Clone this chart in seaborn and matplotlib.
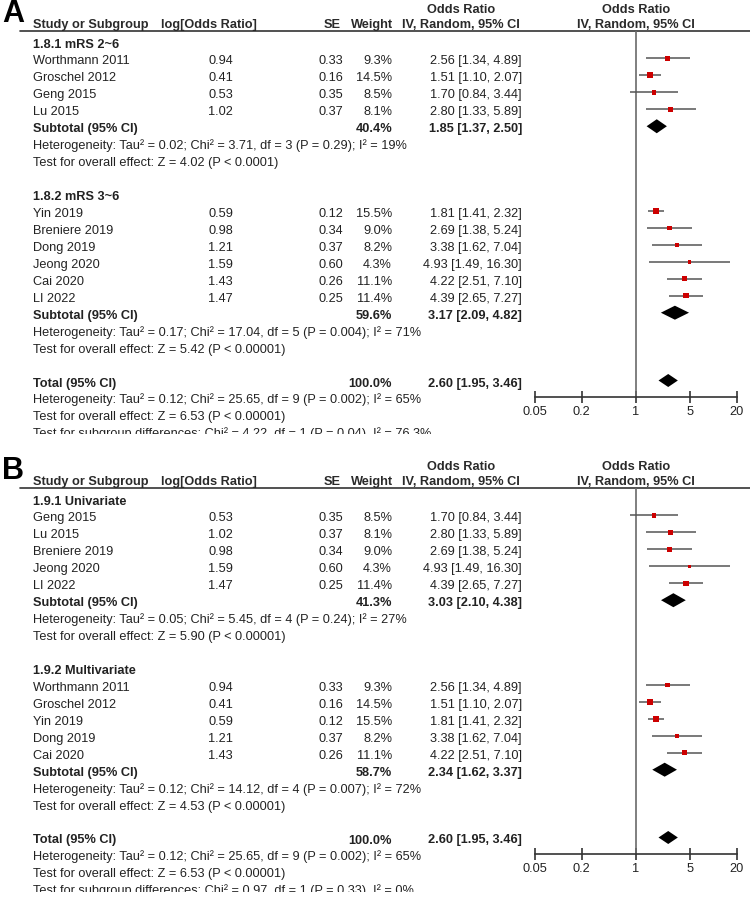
import matplotlib.pyplot as plt
import seaborn as sns
from matplotlib.ticker import NullLocator

sns.set_style("white")
plt.rcParams['font.family'] = ['Liberation Sans', 'DejaVu Sans']

# =========================
# Study level data
# =========================
study = ["Worthmann 2011", "Groschel 2012", "Geng 2015", "Lu 2015", "Yin 2019",
         "Breniere 2019", "Dong 2019", "Jeong 2020", "Cai 2020", "LI 2022"]
log_or = [0.94, 0.41, 0.53, 1.02, 0.59, 0.98, 1.21, 1.59, 1.43, 1.47]
se = [0.33, 0.16, 0.35, 0.37, 0.12, 0.34, 0.37, 0.60, 0.26, 0.25]
weight = [9.3, 14.5, 8.5, 8.1, 15.5, 9.0, 8.2, 4.3, 11.1, 11.4]
odds = [2.56, 1.51, 1.70, 2.80, 1.81, 2.69, 3.38, 4.93, 4.22, 4.39]
ci_low = [1.34, 1.10, 0.84, 1.33, 1.41, 1.38, 1.62, 1.49, 2.51, 2.65]
ci_high = [4.89, 2.07, 3.44, 5.89, 2.32, 5.24, 7.04, 16.30, 7.10, 7.27]

# =========================
# Panel A (mRS subgroups)
# =========================
a_titles = ["1.8.1 mRS 2~6", "1.8.2 mRS 3~6"]
a_members = [["Worthmann 2011", "Groschel 2012", "Geng 2015", "Lu 2015"],
             ["Yin 2019", "Breniere 2019", "Dong 2019", "Jeong 2020", "Cai 2020", "LI 2022"]]
a_sub_weight = [40.4, 59.6]
a_sub_or = [1.85, 3.17]
a_sub_low = [1.37, 2.09]
a_sub_high = [2.50, 4.82]
a_het = ["Heterogeneity: Tau² = 0.02; Chi² = 3.71, df = 3 (P = 0.29); I² = 19%",
         "Heterogeneity: Tau² = 0.17; Chi² = 17.04, df = 5 (P = 0.004); I² = 71%"]
a_z = ["Test for overall effect: Z = 4.02 (P < 0.0001)",
       "Test for overall effect: Z = 5.42 (P < 0.00001)"]
a_diff = "Test for subgroup differences: Chi² = 4.22, df = 1 (P = 0.04), I² = 76.3%"

# =========================
# Panel B (univariate / multivariate)
# =========================
b_titles = ["1.9.1 Univariate", "1.9.2 Multivariate"]
b_members = [["Geng 2015", "Lu 2015", "Breniere 2019", "Jeong 2020", "LI 2022"],
             ["Worthmann 2011", "Groschel 2012", "Yin 2019", "Dong 2019", "Cai 2020"]]
b_sub_weight = [41.3, 58.7]
b_sub_or = [3.03, 2.34]
b_sub_low = [2.10, 1.62]
b_sub_high = [4.38, 3.37]
b_het = ["Heterogeneity: Tau² = 0.05; Chi² = 5.45, df = 4 (P = 0.24); I² = 27%",
         "Heterogeneity: Tau² = 0.12; Chi² = 14.12, df = 4 (P = 0.007); I² = 72%"]
b_z = ["Test for overall effect: Z = 5.90 (P < 0.00001)",
       "Test for overall effect: Z = 4.53 (P < 0.00001)"]
b_diff = "Test for subgroup differences: Chi² = 0.97, df = 1 (P = 0.33), I² = 0%"

# overall pooled result (same in both panels)
total_weight = 100.0
total_or = 2.60
total_low = 1.95
total_high = 3.46
total_het = "Heterogeneity: Tau² = 0.12; Chi² = 25.65, df = 9 (P = 0.002); I² = 65%"
total_z = "Test for overall effect: Z = 6.53 (P < 0.00001)"

ticks = [0.05, 0.2, 1, 5, 20]
tick_labels = ["0.05", "0.2", "1", "5", "20"]

# =========================
# Layout (pixels)
# =========================
W, H = 750, 898
ROW0 = 41.5
STEP = 16.95
FS = 9.2
TXT = "#222222"
fig = plt.figure(figsize=(W / 100, H / 100), dpi=100)


def put(ax, x, y, s, ha="left", bold=False):
    ax.text(x, y + 6, s, ha=ha, va="baseline", fontsize=FS, color=TXT,
            fontweight="bold" if bold else "normal", clip_on=True)


def ci_text(o, lo, hi):
    return f"{o:.2f} [{lo:.2f}, {hi:.2f}]"


def draw_panel(top, reg_top, reg_bot, letter, titles, members, sub_w, sub_or,
               sub_lo, sub_hi, het, z, diff):
    ax = fig.add_axes([0, 1 - reg_bot / H, 1, (reg_bot - reg_top) / H])
    ax.set_xlim(0, W)
    ax.set_ylim(reg_bot - top, reg_top - top)
    ax.axis("off")

    axis_y = ROW0 + 21 * STEP
    axf = fig.add_axes([535 / W, 1 - (top + axis_y) / H, 202 / W, (axis_y - 31) / H])
    axf.set_xscale("log")
    axf.set_xlim(0.05, 20)
    axf.set_ylim(axis_y, 31)
    axf.patch.set_alpha(0)

    # panel letter + header
    ax.text(2, 22, letter, fontsize=22, fontweight="bold", color="black", va="baseline")
    for x, s, ha in [(33, "Study or Subgroup", "left"), (209, "log[Odds Ratio]", "center"),
                     (341, "SE", "right"), (393, "Weight", "right"),
                     (461, "IV, Random, 95% CI", "center"), (636, "IV, Random, 95% CI", "center")]:
        ax.text(x, 28, s, ha=ha, va="baseline", fontsize=FS, fontweight="bold", color="#2a2a2a")
    for x in [461, 636]:
        ax.text(x, 13, "Odds Ratio", ha="center", va="baseline", fontsize=FS,
                fontweight="bold", color="#2a2a2a")
    ax.plot([20, W], [31, 31], color="#333333", lw=1.2)

    axf.axvline(1, color="#6a6a6a", lw=1.2)

    row = 0
    pts_x, pts_y, pts_s = [], [], []
    for g in range(2):
        put(ax, 33, ROW0 + row * STEP, titles[g], bold=True)
        row += 1
        for name in members[g]:
            i = study.index(name)
            y = ROW0 + row * STEP
            put(ax, 33, y, name)
            put(ax, 233, y, f"{log_or[i]:.2f}", ha="right")
            put(ax, 343, y, f"{se[i]:.2f}", ha="right")
            put(ax, 392, y, f"{weight[i]:.1f}%", ha="right")
            put(ax, 522, y, ci_text(odds[i], ci_low[i], ci_high[i]), ha="right")
            axf.hlines(y, ci_low[i], ci_high[i], color="#555555", lw=1.1)
            pts_x.append(odds[i])
            pts_y.append(y)
            pts_s.append((1.6 * weight[i] ** 0.5 * 0.72) ** 2)
            row += 1
        y = ROW0 + row * STEP
        put(ax, 33, y, "Subtotal (95% CI)", bold=True)
        put(ax, 392, y, f"{sub_w[g]:.1f}%", ha="right", bold=True)
        put(ax, 522, y, ci_text(sub_or[g], sub_lo[g], sub_hi[g]), ha="right", bold=True)
        axf.fill([sub_lo[g], sub_or[g], sub_hi[g], sub_or[g]],
                 [y, y - 7, y, y + 7], color="black", lw=0)
        row += 1
        put(ax, 33, ROW0 + row * STEP, het[g])
        row += 1
        put(ax, 33, ROW0 + row * STEP, z[g])
        row += 2

    y = ROW0 + row * STEP
    put(ax, 33, y, "Total (95% CI)", bold=True)
    put(ax, 392, y, f"{total_weight:.1f}%", ha="right", bold=True)
    put(ax, 522, y, ci_text(total_or, total_low, total_high), ha="right", bold=True)
    axf.fill([total_low, total_or, total_high, total_or],
             [y, y - 6.5, y, y + 6.5], color="black", lw=0)
    put(ax, 33, ROW0 + (row + 1) * STEP, total_het)
    put(ax, 33, ROW0 + (row + 2) * STEP, total_z)
    put(ax, 33, ROW0 + (row + 3) * STEP, diff)

    sns.scatterplot(x=pts_x, y=pts_y, s=pts_s, marker="s", color="#cc0000",
                    linewidth=0, ax=axf, zorder=3)

    for side in ["top", "left", "right"]:
        axf.spines[side].set_visible(False)
    axf.spines["bottom"].set_color("#333333")
    axf.spines["bottom"].set_linewidth(1.2)
    axf.set_yticks([])
    axf.set_xticks(ticks)
    axf.set_xticklabels(tick_labels)
    axf.xaxis.set_minor_locator(NullLocator())
    axf.tick_params(axis="x", direction="inout", length=8, width=1.2,
                    color="#333333", labelsize=FS, labelcolor=TXT, pad=2, bottom=True)


draw_panel(0, 0, 434, "A", a_titles, a_members, a_sub_weight, a_sub_or,
           a_sub_low, a_sub_high, a_het, a_z, a_diff)
draw_panel(457, 445, 892, "B", b_titles, b_members, b_sub_weight, b_sub_or,
           b_sub_low, b_sub_high, b_het, b_z, b_diff)

fig.savefig("out.png", dpi=100)
